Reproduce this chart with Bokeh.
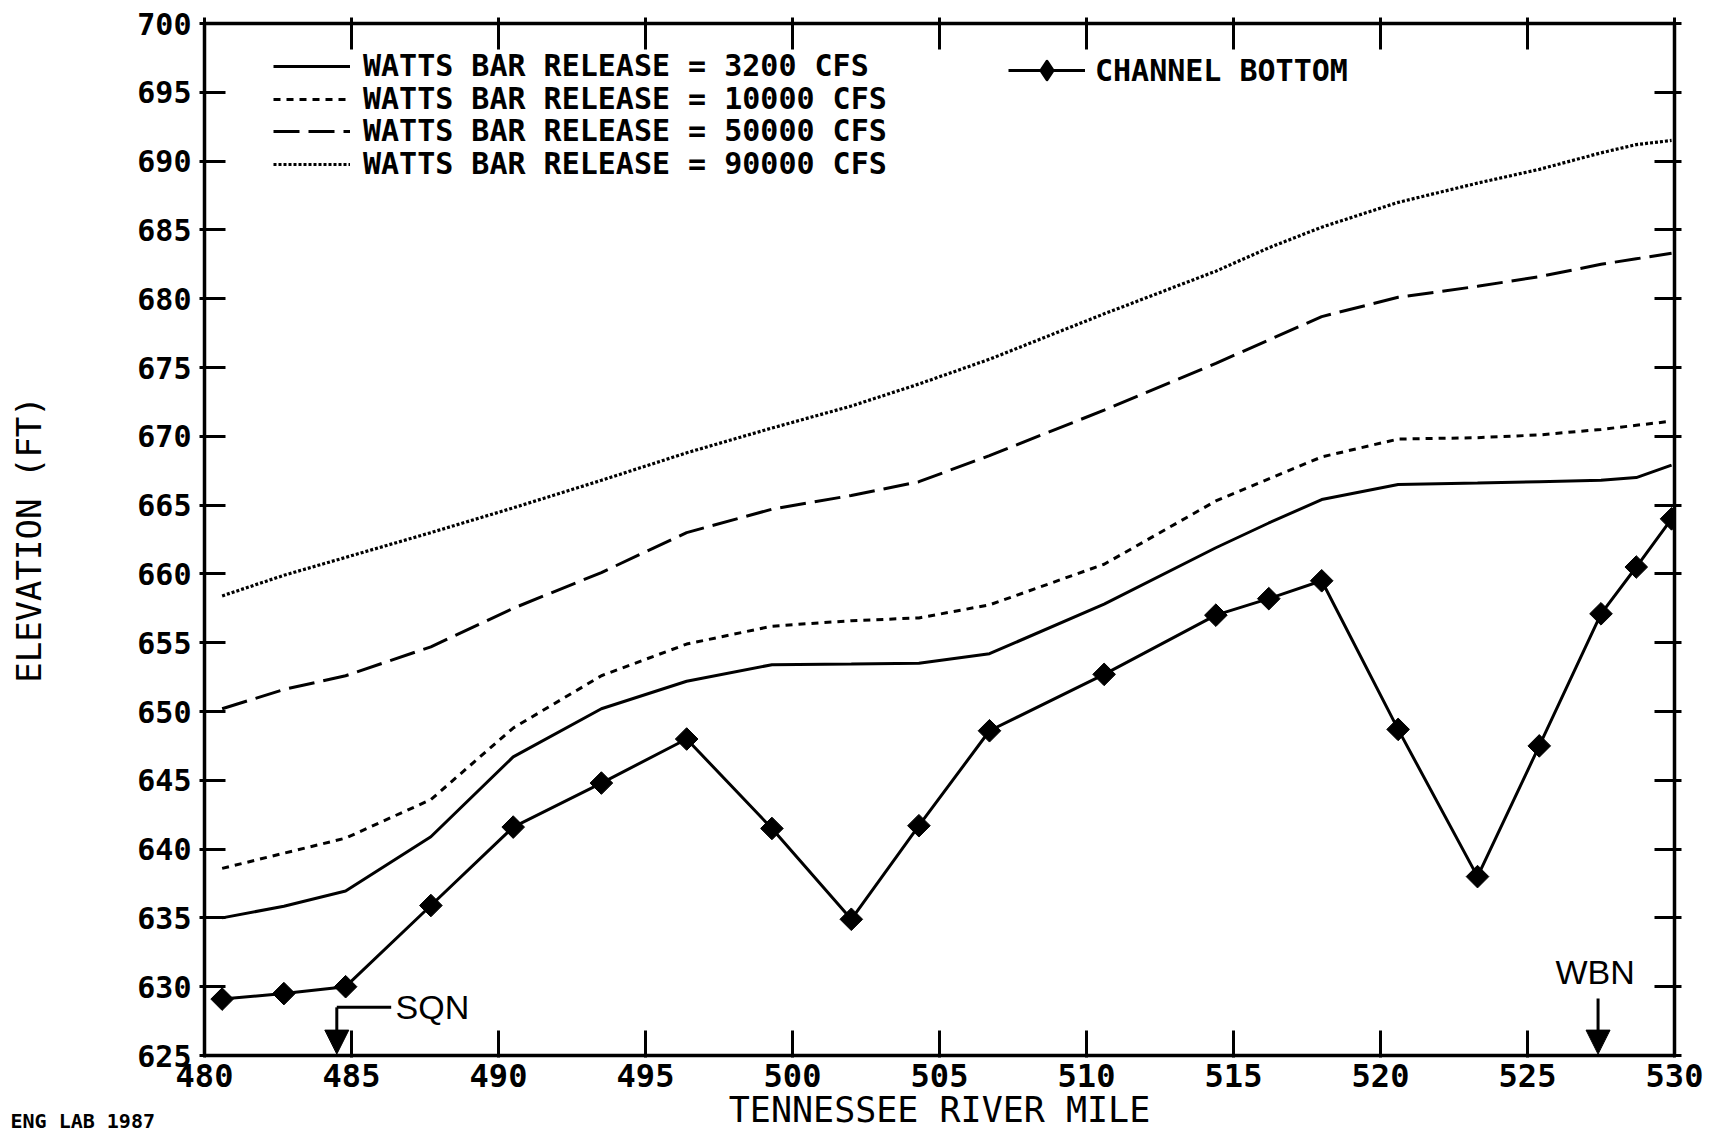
import math
from bokeh.plotting import figure
from bokeh.models import (Range1d, LinearAxis, SingleIntervalTicker, CustomJSTickFormatter,
                          Legend, LegendItem, Arrow, NormalHead, Title, ColumnDataSource)
from bokeh.core.properties import value
from bokeh.embed import file_html
from bokeh.resources import INLINE

# ---------------- data ----------------
river_mile = [480.6, 482.7, 484.8, 487.7, 490.5, 493.5, 496.4, 499.3, 502.0, 504.3, 506.7,
              510.6, 514.4, 516.2, 518.0, 520.6, 523.3, 525.4, 527.5, 528.7, 529.9]
channel_bottom = [629.1, 629.5, 630.0, 635.9, 641.6, 644.8, 648.0, 641.5, 634.9, 641.7, 648.6,
                  652.7, 657.0, 658.2, 659.5, 648.7, 638.0, 647.5, 657.1, 660.5, 664.0]
release_3200 = [635.0, 635.85, 636.95, 640.9, 646.7, 650.2, 652.2, 653.4, 653.45, 653.5, 654.2,
                657.8, 661.9, 663.7, 665.4, 666.5, 666.6, 666.7, 666.8, 667.0, 667.9]
release_10000 = [638.6, 639.7, 640.8, 643.6, 648.8, 652.6, 654.9, 656.2, 656.6, 656.8, 657.75,
                 660.7, 665.3, 666.9, 668.5, 669.8, 669.9, 670.1, 670.5, 670.8, 671.1]
release_50000 = [650.2, 651.6, 652.6, 654.7, 657.5, 660.1, 663.0, 664.7, 665.7, 666.7, 668.6,
                 671.9, 675.3, 677.0, 678.7, 680.1, 680.9, 681.6, 682.5, 682.9, 683.3]
release_90000 = [658.4, 659.9, 661.2, 663.0, 664.8, 666.8, 668.8, 670.6, 672.2, 673.8, 675.6,
                 678.9, 682.0, 683.7, 685.2, 687.0, 688.4, 689.4, 690.6, 691.2, 691.5]

release_labels = ["WATTS BAR RELEASE = 3200 CFS",
                  "WATTS BAR RELEASE = 10000 CFS",
                  "WATTS BAR RELEASE = 50000 CFS",
                  "WATTS BAR RELEASE = 90000 CFS"]
channel_label = "CHANNEL BOTTOM"
x_title = "TENNESSEE RIVER MILE"
y_title = "ELEVATION (FT)"

x_start, x_end, x_step = 480, 530, 5
y_start, y_end, y_step = 625, 700, 5

# plant markers (river mile, elevations)
sqn_name, sqn_mile, sqn_leader_elev, sqn_leader_end, sqn_text_mile = "SQN", 484.5, 628.5, 486.35, 486.5
wbn_name, wbn_mile, wbn_arrow_top, wbn_text_elev = "WBN", 527.4, 629.15, 629.7
footer_text = "ENG LAB 1987"

# ---------------- figure ----------------
W, H = 1711, 1141
B_LEFT, B_TOP, B_RIGHT, B_BOTTOM = 204, 23, 37, 86
FRAME_H = H - B_TOP - B_BOTTOM

p = figure(width=W, height=H,
           x_range=Range1d(x_start, x_end), y_range=Range1d(y_start, y_end),
           output_backend="svg", toolbar_location=None,
           min_border_left=B_LEFT, min_border_right=B_RIGHT,
           min_border_top=B_TOP, min_border_bottom=B_BOTTOM)
p.grid.visible = False
p.outline_line_color = None
p.background_fill_color = "white"
p.border_fill_color = "white"

MONO = "DejaVu Sans Mono"


def style_axis(ax, tick_in, tick_out):
    ax.axis_line_width = 3.5
    ax.axis_line_color = "black"
    ax.major_tick_line_width = 3
    ax.major_tick_line_color = "black"
    ax.major_tick_in = tick_in
    ax.major_tick_out = tick_out
    ax.minor_tick_line_color = None
    ax.major_label_text_font = MONO
    ax.major_label_text_font_style = "bold"
    ax.major_label_text_color = "black"
    ax.axis_label_text_font = MONO
    ax.axis_label_text_font_style = "normal"
    ax.axis_label_text_color = "black"


xt = SingleIntervalTicker(interval=x_step, num_minor_ticks=0)
yt = SingleIntervalTicker(interval=y_step, num_minor_ticks=0)

xa = p.xaxis[0]
xa.ticker = xt
style_axis(xa, 25, 2)
xa.major_label_text_font_size = "32px"
xa.major_label_standoff = 6
xa.axis_label = x_title
xa.axis_label_text_font_size = "35px"
xa.axis_label_standoff = 0

ya = p.yaxis[0]
ya.ticker = yt
style_axis(ya, 21, 5)
ya.major_label_text_font_size = "30px"
ya.major_label_standoff = 8
ya.axis_label = y_title
ya.axis_label_text_font_size = "34px"
ya.axis_label_standoff = 85

blank = CustomJSTickFormatter(code="return ''")
top = LinearAxis(ticker=xt, formatter=blank)
style_axis(top, 26, 6)
top.major_label_text_font_size = "1px"
top.major_label_standoff = 0
p.add_layout(top, "above")

right = LinearAxis(ticker=yt, formatter=blank)
style_axis(right, 20, 7)
right.major_label_text_font_size = "1px"
right.major_label_standoff = 0
p.add_layout(right, "right")

# footer note at the bottom-left corner, pulled up beside the x axis title
p.add_layout(Title(text=footer_text, align="left", offset=-(B_LEFT - 10), standoff=-48,
                   vertical_align="top", text_font=MONO, text_font_style="bold",
                   text_font_size="20px", text_color="black"), "below")

# ---------------- series ----------------
src = ColumnDataSource(dict(x=river_mile, cb=channel_bottom, r1=release_3200, r2=release_10000,
                            r3=release_50000, r4=release_90000))

l1 = p.line("x", "r1", source=src, line_color="black", line_width=3)
l2 = p.line("x", "r2", source=src, line_color="black", line_width=3, line_dash="7 6")
l3 = p.line("x", "r3", source=src, line_color="black", line_width=3, line_dash="26 9")
l4 = p.line("x", "r4", source=src, line_color="black", line_width=3.2, line_dash="3 2")

lc = p.line("x", "cb", source=src, line_color="black", line_width=3)
mc = p.scatter("x", "cb", source=src, marker="square", angle=math.pi / 4, size=16,
               fill_color="black", line_color="black", line_width=1)
# legend proxy so the key shows a diamond (legend markers ignore the angle)
mproxy = p.scatter("x", "cb", source=src, marker="diamond", size=20, visible=False,
                   fill_color="black", line_color="black", line_width=3, line_join="round")

legend_style = dict(orientation="vertical", padding=0, margin=0,
                    label_text_font=MONO, label_text_font_style="bold",
                    label_text_font_size="30px", label_text_color="black",
                    border_line_color=None, background_fill_alpha=0, inactive_fill_alpha=0)

# one legend per row so the row pitch can follow the original (32.5 px)
ROW_PITCH, FIRST_ROW_CENTER, ROW_BOX = 32.5, 66 - B_TOP, 34.9
LEG1_X, LEG2_X = 273 - B_LEFT, 1008 - B_LEFT
for i, (lab, rend) in enumerate(zip(release_labels, [l1, l2, l3, l4])):
    centre = FIRST_ROW_CENTER + i * ROW_PITCH
    y_loc = round(FRAME_H - centre - ROW_BOX / 2)
    leg = Legend(items=[LegendItem(label=lab, renderers=[rend])], location=(LEG1_X, y_loc),
                 glyph_width=77, glyph_height=30, label_height=30, spacing=0,
                 label_standoff=13, **legend_style)
    p.add_layout(leg, "center")

leg2 = Legend(items=[LegendItem(label=channel_label, renderers=[lc, mproxy])],
              location=(LEG2_X, FRAME_H - (70 - B_TOP) - 23),
              glyph_width=77, glyph_height=46, label_height=46, spacing=0,
              label_standoff=10, **legend_style)
p.add_layout(leg2, "center")

# ---------------- plant annotations ----------------
head = dict(size=24, fill_color="black", line_color="black", line_width=1)
p.add_layout(Arrow(end=NormalHead(**head), x_start=sqn_mile, y_start=sqn_leader_elev,
                   x_end=sqn_mile, y_end=y_start + 0.1, line_width=3, line_color="black"))
p.segment(x0=[sqn_mile], y0=[sqn_leader_elev], x1=[sqn_leader_end], y1=[sqn_leader_elev],
          line_color="black", line_width=3)
p.text(x=[sqn_text_mile], y=[sqn_leader_elev], text=[sqn_name], text_font=value("Liberation Sans"),
       text_font_size="34px", text_align="left", text_baseline="middle", text_color="black")

p.add_layout(Arrow(end=NormalHead(**head), x_start=wbn_mile, y_start=wbn_arrow_top,
                   x_end=wbn_mile, y_end=y_start + 0.1, line_width=3, line_color="black"))
p.text(x=[wbn_mile - 0.1], y=[wbn_text_elev], text=[wbn_name], text_font=value("Liberation Sans"),
       text_font_size="34px", text_align="center", text_baseline="bottom", text_color="black")

open("out.html", "w").write(file_html(p, INLINE))
